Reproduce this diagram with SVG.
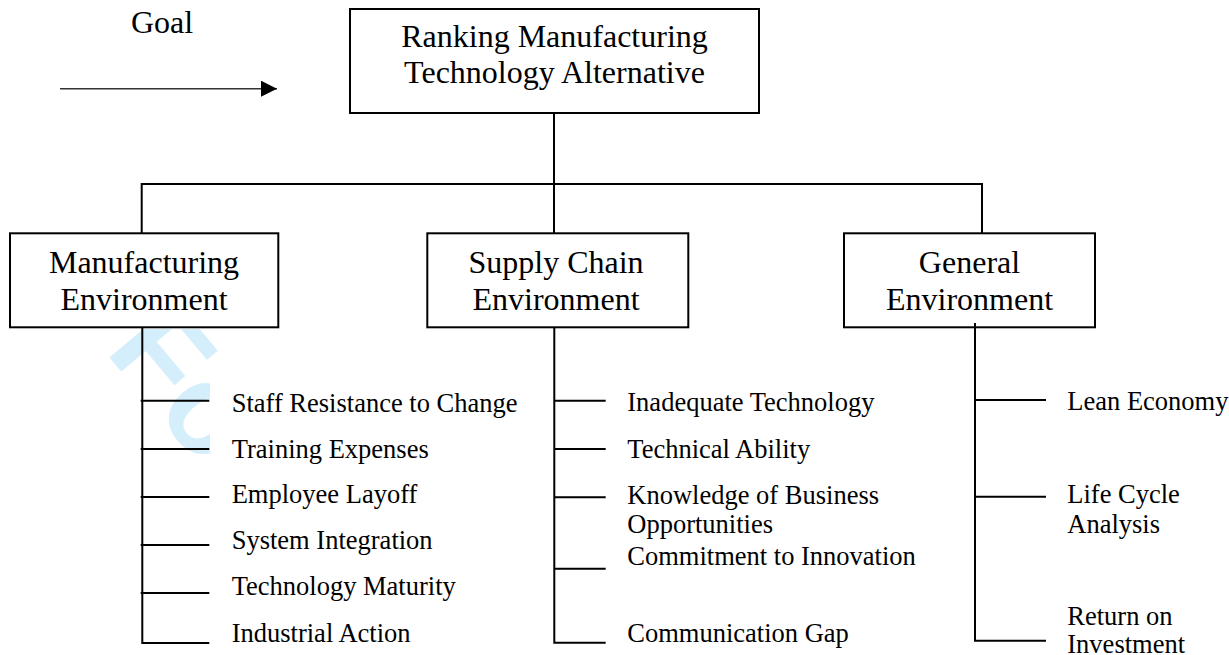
<svg xmlns="http://www.w3.org/2000/svg" width="1229" height="655" viewBox="0 0 1229 655">
<style>
.box{fill:none;stroke:#000;stroke-width:2}
.ln{stroke:#000;stroke-width:2;fill:none}
.big{font-family:"Liberation Serif","Times New Roman",serif;font-size:32px;fill:#000;text-anchor:middle}
.sm{font-family:"Liberation Serif","Times New Roman",serif;font-size:26.5px;fill:#000}
.wm{font-family:"Liberation Sans",Arial,sans-serif;font-weight:bold;font-size:127px;fill:#d4eefb}
</style>
<defs>
<marker id="ah" markerWidth="16" markerHeight="16" refX="16" refY="8" orient="auto" markerUnits="userSpaceOnUse">
<path d="M0,0 L16,8 L0,16 Z" fill="#000"/>
</marker>
<clipPath id="wmclip">
<path d="M0,329 H400 V378 H210 V655 H0 Z"/>
</clipPath>
</defs>
<rect width="1229" height="655" fill="#fff"/>
<g id="watermark" clip-path="url(#wmclip)">
<text class="wm" transform="translate(104,351) rotate(50)">For</text>
</g>
<g id="connectors">
<line x1="60" y1="88.7" x2="277" y2="88.7" stroke="#333" stroke-width="1.4" marker-end="url(#ah)"/>
<line class="ln" x1="554" y1="113" x2="554" y2="233"/>
<line class="ln" x1="141.7" y1="184" x2="983" y2="184"/>
<line class="ln" x1="141.7" y1="183" x2="141.7" y2="233"/>
<line class="ln" x1="982" y1="183" x2="982" y2="233"/>
<path class="ln" d="M142.3,328 V643 H209.3"/>
<path class="ln" d="M140.7,400.7 H209.3 M140.7,449 H209.3 M140.7,497 H209.3 M140.7,545 H209.3 M140.7,593 H209.3"/>
<path class="ln" d="M554.3,327 V642.7 H605.7"/>
<path class="ln" d="M554.3,400.7 H605.7 M554.3,449 H605.7 M554.3,497.3 H605.7 M554.3,568.7 H605.7"/>
<path class="ln" d="M975,323 V640.7 H1046"/>
<path class="ln" d="M975,400 H1046 M975,496.7 H1046"/>
</g>
<g id="goal">
<text x="131" y="33" class="big" style="text-anchor:start">Goal</text>
</g>
<g id="node-top">
<rect class="box" x="350" y="9" width="409" height="104" fill="#fff"/>
<text class="big" x="554.5" y="47">Ranking Manufacturing</text>
<text class="big" x="554.5" y="83">Technology Alternative</text>
</g>
<g id="node-manufacturing">
<rect class="box" x="10" y="233.3" width="268.3" height="94"/>
<text class="big" x="144" y="273.3">Manufacturing</text>
<text class="big" x="144" y="310">Environment</text>
</g>
<g id="node-supply">
<rect class="box" x="427.3" y="233.3" width="261" height="94"/>
<text class="big" x="556" y="273.3">Supply Chain</text>
<text class="big" x="556" y="310">Environment</text>
</g>
<g id="node-general">
<rect class="box" x="844" y="233.3" width="251" height="94"/>
<text class="big" x="969.5" y="273.3">General</text>
<text class="big" x="969.5" y="310">Environment</text>
</g>
<g id="labels-manufacturing">
<text class="sm" x="231.7" y="411.7">Staff Resistance to Change</text>
<text class="sm" x="231.7" y="457.7">Training Expenses</text>
<text class="sm" x="231.7" y="503.3">Employee Layoff</text>
<text class="sm" x="231.7" y="549.3">System Integration</text>
<text class="sm" x="231.7" y="595">Technology Maturity</text>
<text class="sm" x="231.7" y="641.7">Industrial Action</text>
</g>
<g id="labels-supply">
<text class="sm" x="627.3" y="411">Inadequate Technology</text>
<text class="sm" x="627.3" y="458.3">Technical Ability</text>
<text class="sm" x="627.3" y="504">Knowledge of Business</text>
<text class="sm" x="627.3" y="533">Opportunities</text>
<text class="sm" x="627.3" y="565">Commitment to Innovation</text>
<text class="sm" x="627.3" y="641.7">Communication Gap</text>
</g>
<g id="labels-general">
<text class="sm" x="1067.3" y="410">Lean Economy</text>
<text class="sm" x="1067.3" y="503">Life Cycle</text>
<text class="sm" x="1067.3" y="533">Analysis</text>
<text class="sm" x="1067.3" y="625">Return on</text>
<text class="sm" x="1067.3" y="653">Investment</text>
</g>
</svg>
